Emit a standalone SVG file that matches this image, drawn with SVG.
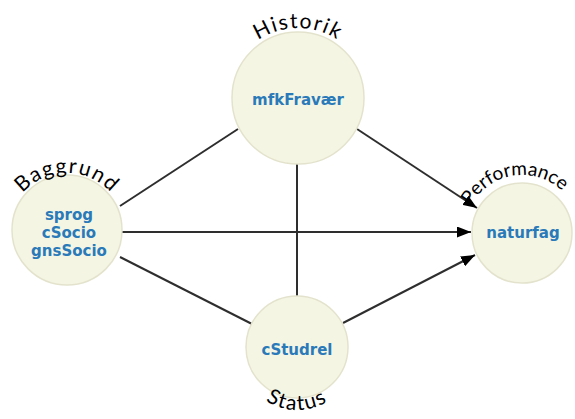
<svg xmlns="http://www.w3.org/2000/svg" width="575" height="419" viewBox="0 0 575 419">
<style>
.node{fill:#f5f5e4;stroke:#e3e3cd;stroke-width:1.5}
.var{font-family:"DejaVu Sans",Verdana,sans-serif;font-weight:bold;font-size:15px;fill:#2a7ab9;text-anchor:middle}
.lbl{font-family:Lato,"Open Sans",sans-serif;font-size:21px;fill:#000;letter-spacing:1.5px}
.edge{stroke:#2e2e2e;stroke-width:2;fill:none}
</style>
<defs>
<marker id="arr" markerUnits="userSpaceOnUse" markerWidth="15" markerHeight="11" refX="14" refY="5.5" orient="auto">
<path d="M0,0 L14,5.5 L0,11 z" fill="#000"/>
</marker>
<path id="pB" d="M8,232 A59,59 0 0 1 126,232"/>
<path id="pH" d="M226,100 A72,72 0 0 1 370,100"/>
<path id="pP" d="M464,233 A58,58 0 0 1 580,233"/>
<path id="pS" d="M239,352 A58,58 0 0 0 355,352"/>
</defs>
<g id="connectors">
<line class="edge" x1="120" y1="206" x2="238" y2="129"/>
<line class="edge" x1="120" y1="257" x2="252" y2="324"/>
<line class="edge" x1="297" y1="163" x2="297" y2="297"/>
<line class="edge" x1="122" y1="232" x2="471" y2="232" marker-end="url(#arr)"/>
<line class="edge" x1="357" y1="129" x2="477" y2="208" marker-end="url(#arr)"/>
<line class="edge" x1="343" y1="323" x2="475" y2="255" marker-end="url(#arr)"/>
</g>
<g id="historik">
<circle class="node" cx="298" cy="98" r="66"/>
<text class="var" x="298" y="105">mfkFravær</text>
<text class="lbl"><textPath href="#pH" startOffset="50%" text-anchor="middle">Historik</textPath></text>
</g>
<g id="baggrund">
<circle class="node" cx="67" cy="230" r="55"/>
<text class="var" x="69" y="220">sprog</text>
<text class="var" x="69" y="238">cSocio</text>
<text class="var" x="69" y="256">gnsSocio</text>
<text class="lbl"><textPath href="#pB" startOffset="50%" text-anchor="middle">Baggrund</textPath></text>
</g>
<g id="performance">
<circle class="node" cx="522" cy="233" r="50"/>
<text class="var" x="523" y="238">naturfag</text>
<text class="lbl" style="letter-spacing:0;font-size:19px"><textPath href="#pP" startOffset="45%" text-anchor="middle">Performance</textPath></text>
</g>
<g id="status">
<circle class="node" cx="297" cy="347" r="51"/>
<text class="var" x="297" y="355">cStudrel</text>
<text class="lbl"><textPath href="#pS" startOffset="50%" text-anchor="middle">Status</textPath></text>
</g>
</svg>
